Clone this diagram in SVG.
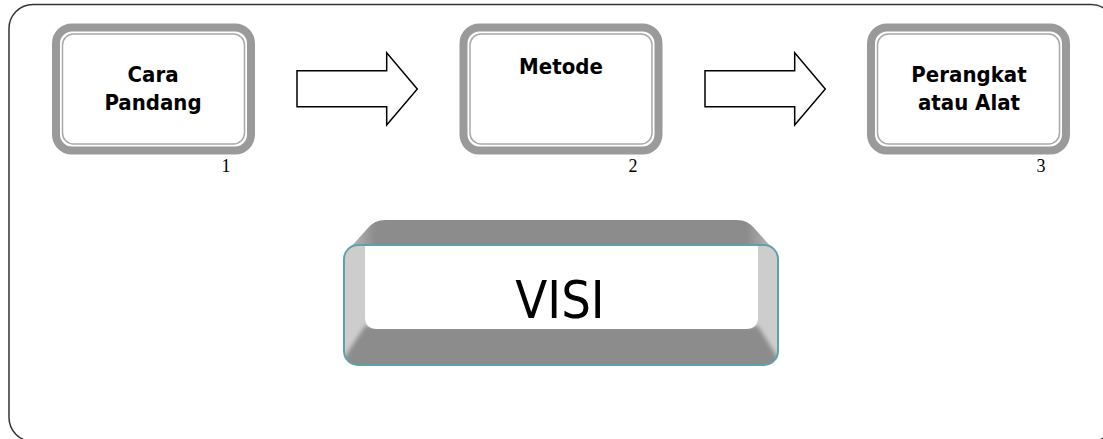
<svg xmlns="http://www.w3.org/2000/svg" width="1103" height="439" viewBox="0 0 1103 439">
  <style>
    .frame { fill: none; stroke: #333333; stroke-width: 1.5; }
    .band { fill: #ffffff; stroke: #9a9a9a; stroke-width: 8; }
    .inner { fill: #ffffff; stroke: #a8a8a8; stroke-width: 1.5; }
    .title { font-family: "DejaVu Sans Condensed", "DejaVu Sans", sans-serif; font-stretch: condensed; font-weight: bold; font-size: 22px; fill: #000000; text-anchor: middle; }
    .num { font-family: "Liberation Serif", serif; font-size: 18px; fill: #000000; text-anchor: middle; }
    .arrow { fill: #ffffff; stroke: #000000; stroke-width: 1.5; stroke-linejoin: miter; }
    .visi { font-family: "DejaVu Sans Condensed", "DejaVu Sans", sans-serif; font-stretch: condensed; font-size: 52px; fill: #000000; text-anchor: middle; }
  </style>
  <defs>
    <clipPath id="faceClip">
      <rect x="344" y="245" width="434" height="120" rx="14"/>
    </clipPath>
    <filter id="soft" x="-5%" y="-50%" width="110%" height="200%">
      <feGaussianBlur stdDeviation="2.2"/>
    </filter>
    <linearGradient id="bevelTop" x1="0" y1="0" x2="1" y2="0">
      <stop offset="0" stop-color="#b8b8b8"/>
      <stop offset="0.06" stop-color="#8c8c8c"/>
      <stop offset="0.94" stop-color="#8c8c8c"/>
      <stop offset="1" stop-color="#b8b8b8"/>
    </linearGradient>
  </defs>

  <rect class="frame" x="9" y="4.5" width="1106" height="437" rx="24"/>

  <!-- step boxes -->
  <g id="node-cara-pandang">
    <rect class="band" x="56" y="27.5" width="195" height="123" rx="16"/>
    <rect class="inner" x="62.5" y="34" width="182" height="110" rx="11"/>
    <text class="title" x="153" y="81.5">Cara</text>
    <text class="title" x="153" y="110">Pandang</text>
    <text class="num" x="226" y="172">1</text>
  </g>

  <g id="node-metode">
    <rect class="band" x="463.5" y="27.5" width="195" height="123" rx="16"/>
    <rect class="inner" x="470" y="34" width="182" height="110" rx="11"/>
    <text class="title" x="561" y="73.5">Metode</text>
    <text class="num" x="633" y="172">2</text>
  </g>

  <g id="node-perangkat">
    <rect class="band" x="871" y="27.5" width="195" height="123" rx="16"/>
    <rect class="inner" x="877.5" y="34" width="182" height="110" rx="11"/>
    <text class="title" x="969" y="81.5">Perangkat</text>
    <text class="title" x="969" y="110">atau Alat</text>
    <text class="num" x="1041" y="172">3</text>
  </g>

  <!-- block arrows between steps -->
  <g id="connectors">
    <polygon class="arrow" points="297,70.7 386.7,70.7 386.7,52.7 417.3,89 386.7,125 386.7,106.7 297,106.7"/>
    <polygon class="arrow" points="705,70.7 794.7,70.7 794.7,52.7 825.3,89 794.7,125 794.7,106.7 705,106.7"/>
  </g>

  <!-- bevelled VISI plate -->
  <g id="node-visi">
    <path d="M350,248 L367,229 Q374,220 385,220 L737,220 Q748,220 755,229 L772,248 Z" fill="url(#bevelTop)"/>
    <rect x="344" y="245" width="434" height="120" rx="14" fill="#cdcdcd"/>
    <g clip-path="url(#faceClip)">
      <polygon points="365,326 758,326 778,358 778,372 344,372 344,358" fill="#8c8c8c" filter="url(#soft)"/>
    </g>
    <path d="M365,246 L758,246 L758,317 Q758,329 746,329 L377,329 Q365,329 365,317 Z" fill="#ffffff"/>
    <rect x="344" y="245" width="434" height="120" rx="14" fill="none" stroke="#63a0ad" stroke-width="2"/>
    <text class="visi" x="560" y="318">VISI</text>
  </g>
</svg>
